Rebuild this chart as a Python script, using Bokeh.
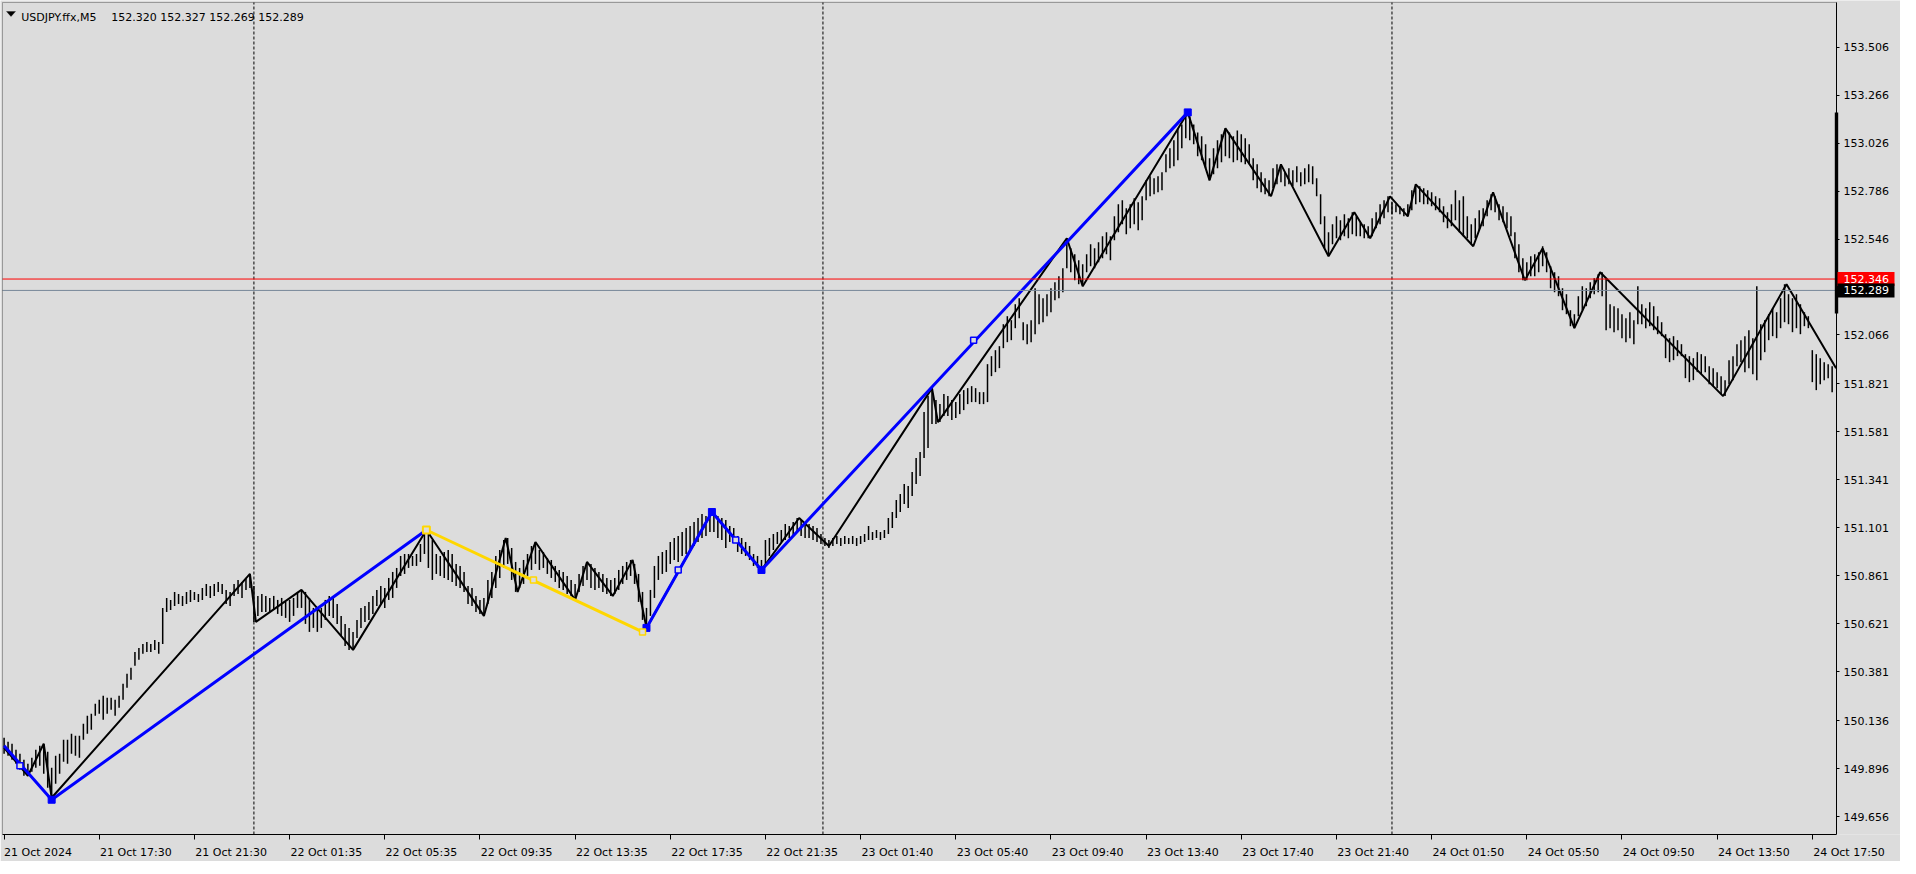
from bokeh.plotting import figure
from bokeh.models import (Range1d, FixedTicker, NumeralTickFormatter, Label, LinearAxis,
                          BoxAnnotation, PolyAnnotation)
from bokeh.embed import file_html
from bokeh.resources import INLINE

# ---------------- data ----------------
symbol = "USDJPY.ffx,M5"
ohlc_text = "152.320 152.327 152.269 152.289"
ask_price = 152.346
bid_price = 152.289
price_ticks = [153.506, 153.266, 153.026, 152.786, 152.546, 152.066, 151.821, 151.581,
               151.341, 151.101, 150.861, 150.621, 150.381, 150.136, 149.896, 149.656]
time_tick_bars = [0, 48, 96, 144, 192, 240, 288, 336, 384, 432, 480, 528, 576, 624,
                  672, 720, 768, 816, 864, 912]
time_tick_labels = ["21 Oct 2024", "21 Oct 17:30", "21 Oct 21:30", "22 Oct 01:35",
                    "22 Oct 05:35", "22 Oct 09:35", "22 Oct 13:35", "22 Oct 17:35",
                    "22 Oct 21:35", "23 Oct 01:40", "23 Oct 05:40", "23 Oct 09:40",
                    "23 Oct 13:40", "23 Oct 17:40", "23 Oct 21:40", "24 Oct 01:50",
                    "24 Oct 05:50", "24 Oct 09:50", "24 Oct 13:50", "24 Oct 17:50"]
day_break_bars = [126, 413, 700]
scale_bar_low, scale_bar_high = 152.174, 153.180

# high / low of every second M5 bar
bar_high = [
    150.05, 150.03, 150.02, 149.99, 149.97, 149.94, 149.92, 149.95, 149.99, 150.01,
    150.02, 149.98, 149.90, 149.96, 149.97, 150.04, 150.04, 150.07, 150.06, 150.06,
    150.12, 150.16, 150.17, 150.22, 150.24, 150.26, 150.25, 150.25, 150.24, 150.26,
    150.32, 150.37, 150.40, 150.48, 150.50, 150.52, 150.53, 150.52, 150.54, 150.53,
    150.70, 150.75, 150.74, 150.78, 150.77, 150.76, 150.78, 150.79, 150.78, 150.77,
    150.80, 150.82, 150.81, 150.82, 150.83, 150.82, 150.79, 150.78, 150.82, 150.84,
    150.83, 150.85, 150.87, 150.81, 150.76, 150.77, 150.76, 150.75, 150.76, 150.74,
    150.75, 150.73, 150.74, 150.75, 150.78, 150.79, 150.78, 150.75, 150.70, 150.69,
    150.70, 150.74, 150.76, 150.75, 150.72, 150.66, 150.62, 150.60, 150.58, 150.64,
    150.70, 150.71, 150.73, 150.76, 150.79, 150.81, 150.80, 150.85, 150.88, 150.90,
    150.96, 150.97, 150.97, 150.96, 150.97, 151.02, 151.09, 151.08, 151.04, 150.97,
    150.96, 150.98, 150.99, 150.97, 150.92, 150.91, 150.88, 150.81, 150.80, 150.76,
    150.74, 150.75, 150.84, 150.88, 150.96, 150.99, 151.04, 151.05, 151.00, 150.93,
    150.90, 150.94, 150.97, 151.01, 151.03, 150.99, 150.98, 150.95, 150.94, 150.91,
    150.89, 150.88, 150.86, 150.84, 150.82, 150.87, 150.91, 150.93, 150.92, 150.90,
    150.88, 150.87, 150.85, 150.84, 150.85, 150.89, 150.91, 150.93, 150.94, 150.92,
    150.87, 150.78, 150.70, 150.79, 150.91, 150.96, 150.98, 150.99, 151.03, 151.05,
    151.06, 151.08, 151.10, 151.11, 151.13, 151.15, 151.17, 151.16, 151.19, 151.18,
    151.16, 151.15, 151.14, 151.11, 151.10, 151.06, 151.05, 151.03, 151.01, 150.97,
    150.96, 150.94, 151.04, 151.05, 151.07, 151.08, 151.09, 151.12, 151.11, 151.13,
    151.15, 151.14, 151.13, 151.12, 151.11, 151.10, 151.07, 151.05, 151.04, 151.05,
    151.06, 151.05, 151.06, 151.05, 151.06, 151.05, 151.06, 151.07, 151.11, 151.08,
    151.09, 151.08, 151.09, 151.15, 151.18, 151.24, 151.27, 151.32, 151.31, 151.38,
    151.45, 151.48, 151.68, 151.76, 151.79, 151.74, 151.72, 151.77, 151.76, 151.74,
    151.73, 151.77, 151.79, 151.80, 151.81, 151.80, 151.78, 151.78, 151.92, 151.96,
    151.99, 152.01, 152.12, 152.16, 152.14, 152.22, 152.25, 152.13, 152.12, 152.14,
    152.30, 152.27, 152.25, 152.27, 152.30, 152.33, 152.36, 152.40, 152.55, 152.50,
    152.47, 152.44, 152.42, 152.47, 152.52, 152.50, 152.53, 152.56, 152.58, 152.56,
    152.66, 152.72, 152.74, 152.70, 152.72, 152.75, 152.73, 152.76, 152.84, 152.86,
    152.85, 152.86, 152.88, 152.97, 153.00, 153.04, 153.10, 153.12, 153.18, 153.16,
    153.12, 153.08, 153.06, 153.02, 152.95, 153.00, 153.04, 153.07, 153.10, 153.08,
    153.06, 153.09, 153.07, 153.05, 153.02, 152.95, 152.92, 152.88, 152.85, 152.84,
    152.90, 152.92, 152.91, 152.88, 152.90, 152.89, 152.91, 152.88, 152.90, 152.92,
    152.91, 152.85, 152.77, 152.66, 152.58, 152.62, 152.66, 152.64, 152.67, 152.65,
    152.68, 152.66, 152.63, 152.62, 152.61, 152.65, 152.68, 152.72, 152.74, 152.76,
    152.73, 152.72, 152.71, 152.70, 152.72, 152.79, 152.82, 152.81, 152.80, 152.79,
    152.78, 152.76, 152.75, 152.71, 152.68, 152.72, 152.79, 152.74, 152.76, 152.66,
    152.62, 152.65, 152.69, 152.70, 152.74, 152.77, 152.76, 152.72, 152.71, 152.68,
    152.66, 152.58, 152.52, 152.45, 152.43, 152.46, 152.47, 152.48, 152.51, 152.48,
    152.41, 152.38, 152.36, 152.30, 152.27, 152.19, 152.17, 152.26, 152.31, 152.30,
    152.33, 152.35, 152.37, 152.38, 152.35, 152.22, 152.21, 152.20, 152.17, 152.15,
    152.18, 152.14, 152.31, 152.22, 152.20, 152.23, 152.21, 152.16, 152.13, 152.07,
    152.05, 152.06, 152.04, 152.02, 151.97, 151.96, 151.95, 151.98, 151.97, 151.96,
    151.91, 151.90, 151.88, 151.86, 151.84, 151.94, 151.96, 152.02, 152.04, 152.06,
    152.09, 152.05, 152.31, 152.12, 152.14, 152.17, 152.20, 152.18, 152.25, 152.32,
    152.27, 152.25, 152.27, 152.22, 152.18, 152.16, 151.99, 151.97, 151.95, 151.93,
    151.92, 151.91]
bar_low = [
    149.97, 149.96, 149.94, 149.92, 149.89, 149.86, 149.86, 149.88, 149.90, 149.91,
    149.87, 149.80, 149.75, 149.82, 149.87, 149.93, 149.92, 149.97, 149.96, 149.95,
    150.04, 150.07, 150.09, 150.16, 150.17, 150.14, 150.17, 150.19, 150.16, 150.20,
    150.24, 150.30, 150.34, 150.41, 150.44, 150.47, 150.48, 150.48, 150.49, 150.47,
    150.52, 150.68, 150.69, 150.71, 150.72, 150.71, 150.72, 150.73, 150.74, 150.73,
    150.74, 150.76, 150.75, 150.76, 150.78, 150.77, 150.72, 150.71, 150.76, 150.77,
    150.75, 150.79, 150.80, 150.63, 150.66, 150.68, 150.68, 150.68, 150.69, 150.67,
    150.66, 150.65, 150.63, 150.66, 150.70, 150.70, 150.62, 150.58, 150.60, 150.58,
    150.60, 150.64, 150.66, 150.65, 150.62, 150.56, 150.51, 150.49, 150.49, 150.55,
    150.60, 150.63, 150.64, 150.67, 150.71, 150.72, 150.70, 150.74, 150.75, 150.80,
    150.86, 150.87, 150.90, 150.91, 150.91, 150.93, 150.97, 150.90, 150.84, 150.87,
    150.86, 150.85, 150.84, 150.83, 150.81, 150.80, 150.78, 150.72, 150.71, 150.68,
    150.67, 150.66, 150.72, 150.75, 150.80, 150.85, 150.90, 150.92, 150.84, 150.78,
    150.80, 150.82, 150.86, 150.89, 150.92, 150.89, 150.90, 150.87, 150.85, 150.83,
    150.80, 150.79, 150.77, 150.76, 150.74, 150.78, 150.81, 150.84, 150.80, 150.79,
    150.80, 150.78, 150.77, 150.76, 150.77, 150.79, 150.82, 150.84, 150.86, 150.82,
    150.73, 150.64, 150.60, 150.66, 150.75, 150.84, 150.87, 150.88, 150.92, 150.94,
    150.93, 150.96, 150.97, 150.99, 151.01, 151.03, 151.05, 151.06, 151.08, 151.08,
    151.05, 151.04, 151.00, 151.03, 151.04, 150.98, 150.97, 150.96, 150.94, 150.91,
    150.90, 150.88, 150.91, 150.96, 150.99, 151.02, 151.03, 151.04, 151.05, 151.06,
    151.08, 151.06, 151.05, 151.05, 151.04, 151.03, 151.02, 151.01, 151.00, 151.01,
    151.02, 151.01, 151.02, 151.02, 151.02, 151.01, 151.02, 151.03, 151.04, 151.04,
    151.05, 151.04, 151.05, 151.07, 151.10, 151.15, 151.18, 151.22, 151.20, 151.26,
    151.32, 151.36, 151.45, 151.50, 151.62, 151.62, 151.63, 151.66, 151.66, 151.64,
    151.65, 151.67, 151.69, 151.72, 151.73, 151.73, 151.72, 151.72, 151.73, 151.86,
    151.88, 151.90, 152.00, 152.03, 152.04, 152.10, 152.15, 152.04, 152.02, 152.03,
    152.07, 152.12, 152.13, 152.16, 152.18, 152.24, 152.25, 152.28, 152.40, 152.38,
    152.34, 152.32, 152.31, 152.38, 152.41, 152.40, 152.43, 152.45, 152.47, 152.44,
    152.54, 152.58, 152.62, 152.57, 152.60, 152.62, 152.59, 152.64, 152.74, 152.76,
    152.77, 152.78, 152.79, 152.88, 152.90, 152.91, 152.94, 153.00, 153.05, 153.04,
    153.02, 152.96, 152.94, 152.90, 152.84, 152.87, 152.90, 152.93, 152.96, 152.95,
    152.93, 152.94, 152.93, 152.92, 152.92, 152.84, 152.80, 152.78, 152.77, 152.76,
    152.80, 152.82, 152.83, 152.81, 152.82, 152.81, 152.83, 152.81, 152.82, 152.83,
    152.82, 152.76, 152.62, 152.50, 152.47, 152.52, 152.55, 152.54, 152.56, 152.55,
    152.57, 152.56, 152.56, 152.55, 152.55, 152.56, 152.60, 152.62, 152.65, 152.68,
    152.67, 152.68, 152.67, 152.66, 152.66, 152.69, 152.72, 152.73, 152.72, 152.72,
    152.71, 152.69, 152.68, 152.63, 152.60, 152.61, 152.64, 152.58, 152.56, 152.55,
    152.52, 152.55, 152.59, 152.61, 152.66, 152.69, 152.68, 152.64, 152.63, 152.60,
    152.56, 152.45, 152.38, 152.34, 152.34, 152.36, 152.36, 152.38, 152.41, 152.38,
    152.30, 152.28, 152.26, 152.19, 152.17, 152.11, 152.10, 152.16, 152.19, 152.21,
    152.25, 152.27, 152.28, 152.26, 152.09, 152.10, 152.08, 152.09, 152.05, 152.03,
    152.05, 152.02, 152.12, 152.12, 152.10, 152.11, 152.09, 152.07, 152.06, 151.95,
    151.93, 151.94, 151.96, 151.96, 151.85, 151.83, 151.84, 151.88, 151.87, 151.88,
    151.82, 151.81, 151.80, 151.77, 151.76, 151.82, 151.84, 151.91, 151.93, 151.88,
    151.90, 151.87, 151.84, 151.94, 151.98, 152.04, 152.06, 152.05, 152.10, 152.13,
    152.12, 152.08, 152.10, 152.07, 152.11, 152.10, 151.83, 151.79, 151.82, 151.84,
    151.85, 151.78]
bar_index = list(range(0, 2 * len(bar_high), 2))

# ZigZag (black)
zz_bar = [0, 12, 20, 24, 124, 127, 150, 176, 213, 242, 253, 259, 268, 288, 294, 307,
          317, 324, 357, 382, 401, 416, 468, 471, 536, 544, 597, 608, 616, 639, 644,
          668, 681, 689, 699, 708, 712, 741, 751, 767, 776, 792, 805, 867, 899, 924]
zz_price = [150.00, 149.86, 150.02, 149.75, 150.87, 150.63, 150.79, 150.49, 151.09,
            150.66, 151.05, 150.78, 151.03, 150.74, 150.93, 150.76, 150.94, 150.60,
            151.18, 150.89, 151.15, 151.01, 151.80, 151.63, 152.55, 152.31, 153.18,
            152.84, 153.10, 152.76, 152.92, 152.46, 152.68, 152.55, 152.76, 152.66,
            152.82, 152.51, 152.78, 152.34, 152.50, 152.10, 152.38, 151.76, 152.32,
            151.90]

# higher-degree swings (blue up-legs, yellow correction)
blue1_bar = [0, 24, 213]
blue1_price = [150.01, 149.74, 151.09]
yellow_bar = [213, 322]
yellow_price = [151.09, 150.58]
blue2_bar = [324, 357, 382, 597]
blue2_price = [150.60, 151.18, 150.89, 153.18]
blue_pivot_bar = [24, 324, 357, 382, 597]
blue_pivot_price = [149.74, 150.60, 151.18, 150.89, 153.18]
blue_mid_bar = [8, 340, 369, 489]
blue_mid_price = [149.91, 150.89, 151.04, 152.04]
yellow_pivot_bar = [213]
yellow_pivot_price = [151.09]
yellow_mid_bar = [267, 322]
yellow_mid_price = [150.84, 150.58]

# ---------------- layout ----------------
BG = "#DCDCDC"
FONT = "DejaVu Sans"
BOX_W, BOX_H = 1834, 832          # chart box in px
X0, X1 = -0.8, 924.2              # bar range of the chart box
Y0, Y1 = 149.566, 153.730         # price range of the chart box
dx = (X1 - X0) / BOX_W            # bars per pixel
dy = (Y1 - Y0) / BOX_H            # price per pixel
FRAME_W = 1900                    # chart box + price scale strip
FRAME_H = BOX_H + 2

p = figure(frame_width=FRAME_W, frame_height=FRAME_H,
           x_range=Range1d(X0 - 2 * dx, X1 + (FRAME_W - BOX_W - 2) * dx),
           y_range=Range1d(Y0, Y1 + 2 * dy),
           y_axis_location=None, x_axis_location="below",
           output_backend="svg", toolbar_location=None,
           min_border_left=0, min_border_top=0, min_border_right=0, min_border_bottom=24,
           background_fill_color=BG, border_fill_color=BG)
p.grid.visible = False
p.outline_line_color = None

# chart box border
p.add_layout(BoxAnnotation(left=X0, right=X1, bottom=Y0, top=Y1, fill_color=None,
                           line_color="black", line_width=1))

# right price axis, fixed at the chart box edge
ya = LinearAxis(fixed_location=X1, bounds=(Y0, Y1),
                ticker=FixedTicker(ticks=price_ticks),
                formatter=NumeralTickFormatter(format="0.000"))
ya.major_label_text_font = FONT
ya.major_label_text_font_size = "11px"
ya.major_label_text_color = "black"
ya.major_tick_out = 3
ya.major_tick_in = 0
ya.major_label_standoff = 4
ya.minor_tick_line_color = None
ya.axis_line_color = "black"
p.add_layout(ya, "right")

# bottom time axis, labels start at their tick (the first one is kept at the edge)
overrides = {}
for i, (b, lbl) in enumerate(zip(time_tick_bars, time_tick_labels)):
    pad = "\u00a0" * (1 if i == 0 else 21)
    overrides[b] = pad + lbl
xa = p.xaxis[0]
xa.bounds = (X0, X1)
xa.ticker = FixedTicker(ticks=time_tick_bars)
xa.major_label_overrides = overrides
xa.major_label_text_font = FONT
xa.major_label_text_font_size = "11px"
xa.major_label_text_color = "black"
xa.major_label_standoff = 6
xa.major_tick_out = 5
xa.major_tick_in = 0
xa.minor_tick_line_color = None
xa.axis_line_color = "black"

# day separators
p.segment(x0=day_break_bars, x1=day_break_bars, y0=Y0, y1=Y1,
          line_color="black", line_width=1, line_dash="3 2")

# price bars (high-low)
p.segment(x0=bar_index, y0=bar_low, x1=bar_index, y1=bar_high,
          line_color="black", line_width=1.5)

# zigzag
p.line(zz_bar, zz_price, line_color="black", line_width=2)

# swing legs
p.line(blue1_bar, blue1_price, line_color="#0000FF", line_width=3)
p.line(blue2_bar, blue2_price, line_color="#0000FF", line_width=3)
p.line(yellow_bar, yellow_price, line_color="#FFD700", line_width=3)
p.scatter(blue_pivot_bar, blue_pivot_price, marker="square", size=7,
          fill_color="#0000FF", line_color="#0000FF")
p.scatter(blue_mid_bar, blue_mid_price, marker="square", size=6,
          fill_color=BG, line_color="#0000FF", line_width=1.5)
p.scatter(yellow_pivot_bar, yellow_pivot_price, marker="square", size=7,
          fill_color=BG, line_color="#FFD700", line_width=2)
p.scatter(yellow_mid_bar, yellow_mid_price, marker="square", size=6,
          fill_color=BG, line_color="#FFD700", line_width=1.5)

# bid / ask lines
p.segment(x0=[X0], x1=[X1], y0=[ask_price], y1=[ask_price], line_color="red", line_width=1)
p.segment(x0=[X0], x1=[X1], y0=[bid_price], y1=[bid_price], line_color="#778899", line_width=1)

# scale marker on the price axis
p.add_layout(BoxAnnotation(left=X1 - 1.7 * dx, right=X1 + 1.7 * dx,
                           bottom=scale_bar_low, top=scale_bar_high,
                           fill_color="black", fill_alpha=1, line_color=None))

# ask / bid price tags
for price, col in ((ask_price, "red"), (bid_price, "black")):
    p.add_layout(BoxAnnotation(left=X1 + 1 * dx, right=X1 + 58 * dx,
                               bottom=price - 7 * dy, top=price + 7 * dy,
                               fill_color=col, fill_alpha=1, line_color=None))
    p.add_layout(Label(x=X1 + 7 * dx, y=price, text=f"{price:.3f}", text_align="left",
                       text_baseline="middle", text_font=FONT, text_font_size="11px",
                       text_color="white"))

# header
p.add_layout(PolyAnnotation(xs=[X0 + 4 * dx, X0 + 13 * dx, X0 + 8.5 * dx],
                            ys=[Y1 - 9 * dy, Y1 - 9 * dy, Y1 - 14 * dy],
                            fill_color="black", fill_alpha=1, line_color="black"))
p.add_layout(Label(x=X0 + 18.7 * dx, y=Y1 - 15.3 * dy, text=symbol, text_align="left",
                   text_baseline="alphabetic", text_font=FONT, text_font_size="11px",
                   text_color="black"))
p.add_layout(Label(x=X0 + 108.7 * dx, y=Y1 - 15.3 * dy, text=ohlc_text, text_align="left",
                   text_baseline="alphabetic", text_font=FONT, text_font_size="11px",
                   text_color="black"))

open("out.html", "w").write(file_html(p, INLINE))
